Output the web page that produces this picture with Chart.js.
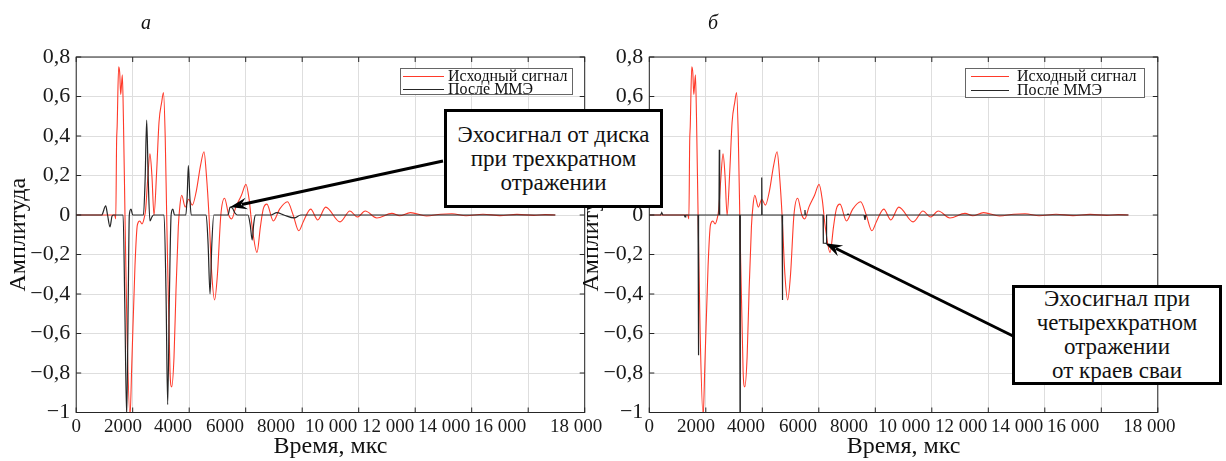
<!DOCTYPE html>
<html><head><meta charset="utf-8">
<script src="https://cdn.jsdelivr.net/npm/chart.js@4.4.1/dist/chart.umd.min.js"></script>
<style>
body{margin:0;background:#fff;width:1226px;height:461px;overflow:hidden;position:relative;font-family:"Liberation Serif","DejaVu Serif","Times New Roman",serif;color:#111;}
canvas{position:absolute;top:0;}
#cA{left:0}
#cB{left:573px}
.lbl{position:absolute;font-style:italic;font-size:20px;line-height:20px;}
.legend{position:absolute;background:#fff;border:1px solid #666;box-sizing:border-box;font-size:16px;}
.legend .sw{position:absolute;height:0;border-top:1px solid;}
.legend .tx{position:absolute;white-space:nowrap;line-height:14px;}
.note{position:absolute;background:#fff;border:3px solid #000;font-size:23px;line-height:24px;text-align:center;display:flex;flex-direction:column;justify-content:center;box-sizing:border-box;white-space:nowrap;}
</style></head>
<body>
<canvas id="cA" width="613" height="461"></canvas>
<canvas id="cB" width="653" height="461"></canvas>

<div class="lbl" style="left:141px;top:12px;">а</div>
<div class="lbl" style="left:708px;top:12px;">б</div>

<div class="legend" style="left:400px;top:68px;width:173px;height:27px;">
  <div class="sw" style="left:2px;top:7px;width:41px;border-color:#ff3a2a;"></div>
  <div class="tx" style="left:47px;top:0px;">Исходный сигнал</div>
  <div class="sw" style="left:2px;top:20px;width:41px;border-color:#262626;"></div>
  <div class="tx" style="left:47px;top:13px;">После ММЭ</div>
</div>
<div class="legend" style="left:965px;top:68px;width:180px;height:30px;">
  <div class="sw" style="left:5px;top:7px;width:38px;border-color:#ff3a2a;"></div>
  <div class="tx" style="left:51px;top:0px;">Исходный сигнал</div>
  <div class="sw" style="left:5px;top:21px;width:38px;border-color:#262626;"></div>
  <div class="tx" style="left:51px;top:14px;">После ММЭ</div>
</div>

<div class="note" style="left:444px;top:109px;width:219px;height:99px;">
  <div>Эхосигнал от диска</div><div>при трехкратном</div><div>отражении</div>
</div>
<div class="note" style="left:1012px;top:285px;width:210px;height:100px;">
  <div>Эхосигнал при</div><div>четырехкратном</div><div>отражении</div><div>от краев сваи</div>
</div>

<script>
// ---------- data ----------
const xTickValues = [0,2000,4000,6000,8000,10000,12000,14000,16000,18000];
const xTickLabels = ['0','2000','4000','6000','8000','10 000','12 000','14 000','16 000','18 000'];
// where the x labels sit along the axis in the reference (they are packed left of their grid lines)
const xLabelAnchors = [0,1657,3427,5268,7073,9020,11040,13020,15003,17700];
const yTickValues = [-1,-0.8,-0.6,-0.4,-0.2,0,0.2,0.4,0.6,0.8];
const yTickLabels = ['−1','−0,8','−0,6','−0,4','−0,2','0','0,2','0,4','0,6','0,8'];

// original signal (both panels)
const timeRed = [0,1000,1360,1400,1430,1450,1503,1540,1575,1633,1670,1727,1800,1905,1965,2080,2165,2250,2330,2400,2460,2530,2610,2680,2754,2848,2931,3025,3090,3150,3203,3320,3380,3462,3533,3615,3673,3733,3860,3980,4110,4250,4400,4524,4610,4700,4800,4900,5000,5120,5250,5400,5500,5650,5850,6010,6120,6220,6400,6520,6620,6750,6980,7200,7480,7680,7880,8050,8300,8550,8830,9340,9690,9950,10230,10640,11175,11450,11830,12400,12900,13300,13800,14400,15000,15600,16200,16600,16960];
const ampRed  = [0,0,0,-0.02,0.37,0.45,0.75,0.72,0.61,0.71,0.5,0,-0.6,-1.02,-0.77,-0.26,-0.05,-0.03,-0.045,-0.02,0.03,0.18,0.31,0.2,0.0,0.22,0.47,0.57,0.62,0.4,0.0,-0.79,-0.87,-0.72,-0.38,-0.06,0.05,0.1,0.04,0.08,0.05,0.12,0.25,0.32,0.2,0.0,-0.3,-0.43,-0.3,0.0,0.085,0.0,-0.02,0.04,0.1,0.155,0.08,-0.05,-0.19,-0.06,0.03,0.055,-0.03,0.03,0.067,0.0,-0.08,-0.03,0.03,-0.025,0.04,-0.035,0.02,-0.01,0.02,-0.015,0.008,-0.004,0.012,-0.005,0.004,0.006,-0.004,0.004,-0.003,0.003,-0.002,0.002,0];

// after MME, panel a
const timeMmeA = [0,900,1044,1110,1196,1270,1330,1660,1720,1787,1840,1880,1940,2000,2380,2440,2495,2550,2610,2680,2740,3110,3180,3238,3300,3360,3420,3480,3880,3930,3970,4020,4070,4600,4670,4737,4800,4870,5370,5450,5530,5620,5700,6080,6160,6230,6280,6340,6900,7100,7350,7720,7950,16960];
const ampMmeA  = [0,0,0.046,0,-0.06,-0.005,0,0,-0.45,-1.02,-0.45,0,0.03,0,0,0.18,0.48,0.18,-0.03,-0.01,0,0,-0.4,-0.96,-0.4,0,0.03,0,0,0.1,0.25,0.1,0,0,-0.15,-0.4,-0.15,0,0,0.04,0.035,0.01,0,0,-0.05,-0.127,-0.05,0,0,0.012,0,-0.015,0,0];

// after MME, panel b
const timeMmeB = [0,400,440,480,1240,1265,1290,1725,1737,1750,2465,2478,2491,3200,3211,3222,3968,3980,3992,4698,4710,4722,5495,5510,5525,6150,6160,6260,6275,7000,7035,7070,7600,7635,7670,16960];
const ampMmeB  = [0,0,0.012,0,0,-0.01,0,0,-0.71,0,0,0.33,0,0,-1.02,0,0,0.19,0,0,-0.43,0,0,0.025,0,0,-0.143,-0.143,0,0,0.005,0,0,-0.025,0,0];

// ---------- helpers ----------
const pts = (xs, ys) => xs.map((v, i) => ({x: v, y: ys[i]}));
const FONT = '"Liberation Serif", "DejaVu Serif", "Times New Roman", serif';
const RED = '#ff3a2a', BLK = '#262626';

const frame = {
  id: 'frame',
  afterDatasetsDraw(chart) {
    const {ctx, chartArea: a, scales: {x, y}} = chart;
    ctx.save();
    ctx.strokeStyle = BLK; ctx.lineWidth = 1;
    ctx.beginPath();
    xTickValues.forEach(v => {
      const p = x.getPixelForValue(v);
      ctx.moveTo(p, a.bottom); ctx.lineTo(p, a.bottom - 5);
      ctx.moveTo(p, a.top); ctx.lineTo(p, a.top + 5);
    });
    yTickValues.forEach(v => {
      const p = y.getPixelForValue(v);
      ctx.moveTo(a.left, p); ctx.lineTo(a.left + 5, p);
      ctx.moveTo(a.right, p); ctx.lineTo(a.right - 5, p);
    });
    ctx.stroke();
    ctx.strokeRect(a.left, a.top, a.right - a.left, a.bottom - a.top);
    ctx.restore();
  }
};

function arrowPlugin(tail, tip) {
  return {
    id: 'arrow',
    afterDraw(chart) {
      const {ctx, scales: {x, y}} = chart;
      const tx = x.getPixelForValue(tip[0]), ty = y.getPixelForValue(tip[1]);
      const sx = tail[0], sy = tail[1];
      const ang = Math.atan2(ty - sy, tx - sx);
      const c = Math.cos(ang), s = Math.sin(ang);
      const L = 17, W = 6;
      ctx.save();
      ctx.strokeStyle = '#000'; ctx.fillStyle = '#000'; ctx.lineWidth = 3;
      ctx.beginPath(); ctx.moveTo(sx, sy); ctx.lineTo(tx - L * 0.7 * c, ty - L * 0.7 * s); ctx.stroke();
      ctx.beginPath();
      ctx.moveTo(tx, ty);
      ctx.lineTo(tx - L * c + W * s, ty - L * s - W * c);
      ctx.lineTo(tx - L * 0.65 * c, ty - L * 0.65 * s);
      ctx.lineTo(tx - L * c - W * s, ty - L * s + W * c);
      ctx.closePath(); ctx.fill();
      ctx.restore();
    }
  };
}

function makeOptions(yWidth, padRight) {
  return {
    responsive: false,
    animation: false,
    layout: {padding: {top: 57, right: padRight, left: 0, bottom: 0}},
    plugins: {legend: {display: false}, tooltip: {enabled: false}},
    elements: {point: {radius: 0}},
    scales: {
      x: {
        type: 'linear', min: 0, max: 18000, position: 'bottom',
        afterBuildTicks: s => { s.ticks = xTickValues.map(v => ({value: v})); },
        afterFit: s => { s.height = 0; s.paddingLeft = 0; s.paddingRight = 0; },
        ticks: {display: false},
        grid: {color: '#dedede', lineWidth: 1, drawTicks: false},
        border: {display: false},
        title: {display: false}
      },
      xLab: {
        type: 'linear', min: 0, max: 18000, position: 'bottom',
        afterBuildTicks: s => { s.ticks = xLabelAnchors.map(v => ({value: v})); },
        afterFit: s => { s.height = 48.5; s.paddingLeft = 0; s.paddingRight = 0; },
        ticks: {font: {family: FONT, size: 19}, color: '#1a1a1a', padding: 3, maxRotation: 0, autoSkip: false,
                callback: (v, i) => xTickLabels[i]},
        grid: {display: false, drawTicks: false},
        border: {display: false},
        title: {display: true, text: 'Время, мкс', font: {family: FONT, size: 24}, color: '#111', padding: {top: 0, bottom: 0}}
      },
      y: {
        type: 'linear', min: -1, max: 0.8,
        afterBuildTicks: s => { s.ticks = yTickValues.map(v => ({value: v})); },
        afterFit: s => { s.width = yWidth; s.paddingTop = 0; s.paddingBottom = 0; },
        ticks: {font: {family: FONT, size: 22}, color: '#1a1a1a', padding: 6, autoSkip: false,
                callback: (v, i) => yTickLabels[i]},
        grid: {color: '#dedede', lineWidth: 1, drawTicks: false},
        border: {display: false},
        title: {display: true, text: 'Амплитуда', font: {family: FONT, size: 24}, color: '#111', padding: {top: 4, bottom: 0}}
      }
    }
  };
}

new Chart(document.getElementById('cA'), {
  type: 'line',
  data: {datasets: [
    {label: 'После ММЭ', data: pts(timeMmeA, ampMmeA), borderColor: BLK, borderWidth: 1.2, cubicInterpolationMode: 'monotone', fill: false},
    {label: 'Исходный сигнал', data: pts(timeRed, ampRed), borderColor: RED, borderWidth: 1.1, cubicInterpolationMode: 'monotone', fill: false}
  ]},
  options: makeOptions(76.2, 28.3),
  plugins: [frame, arrowPlugin([443, 161], [5450, 0.04])]
});

new Chart(document.getElementById('cB'), {
  type: 'line',
  data: {datasets: [
    {label: 'После ММЭ', data: pts(timeMmeB, ampMmeB), borderColor: BLK, borderWidth: 1.2, tension: 0, fill: false},
    {label: 'Исходный сигнал', data: pts(timeRed, ampRed), borderColor: RED, borderWidth: 1.1, cubicInterpolationMode: 'monotone', fill: false}
  ]},
  options: makeOptions(76.3, 68.2),
  plugins: [frame, arrowPlugin([440, 336], [6230, -0.143])]
});
</script>
</body></html>
